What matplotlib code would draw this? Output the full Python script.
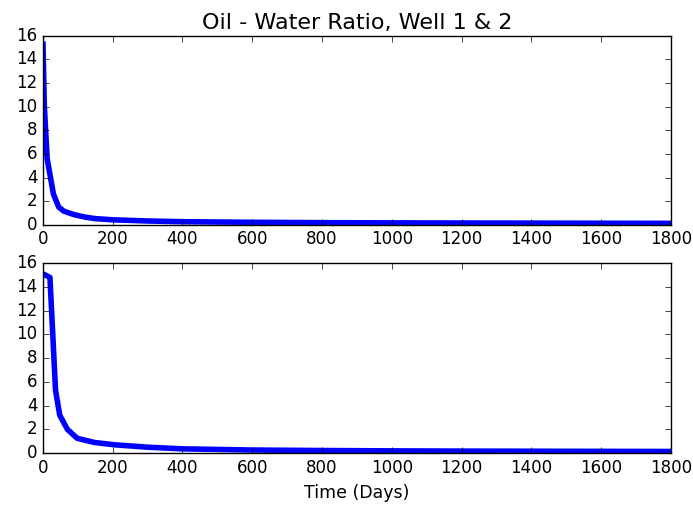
import matplotlib
matplotlib.use('Agg')
import matplotlib.pyplot as plt

# Oil/water ratio against time for the two wells
days_1 = [0, 4, 12, 30, 45, 60, 90, 120, 150, 200, 300, 400, 600, 800,
          1000, 1200, 1400, 1600, 1800]
ratio_1 = [15.3, 10.0, 5.6, 2.6, 1.5, 1.15, 0.85, 0.65, 0.52, 0.42, 0.32,
           0.26, 0.21, 0.18, 0.16, 0.15, 0.14, 0.13, 0.12]

days_2 = [0, 20, 36, 48, 70, 98, 147, 205, 300, 400, 600, 800, 1000,
          1200, 1400, 1600, 1800]
ratio_2 = [15.1, 14.8, 5.3, 3.2, 2.0, 1.25, 0.9, 0.7, 0.5, 0.36, 0.26,
           0.22, 0.19, 0.17, 0.16, 0.15, 0.14]

plt.style.use('classic')
matplotlib.rc('font', size=12)

fig = plt.figure(figsize=(6.93, 5.12), dpi=100, facecolor='white')
ax1 = fig.add_axes([0.062, 0.561, 0.906, 0.369])
ax2 = fig.add_axes([0.062, 0.115, 0.906, 0.371])

ax1.plot(days_1, ratio_1, color='b', linewidth=4)
ax1.set_title("Oil - Water Ratio, Well 1 & 2", fontsize=16)

ax2.plot(days_2, ratio_2, color='b', linewidth=4)
ax2.set_xlabel("Time (Days)", fontsize=12.5)

for ax in (ax1, ax2):
    ax.set_xlim(0, 1800)
    ax.set_ylim(0, 16)
    ax.set_xticks(range(0, 1801, 200))
    ax.set_yticks(range(0, 17, 2))

plt.savefig("out.png", dpi=100, facecolor='white')
plt.close()
